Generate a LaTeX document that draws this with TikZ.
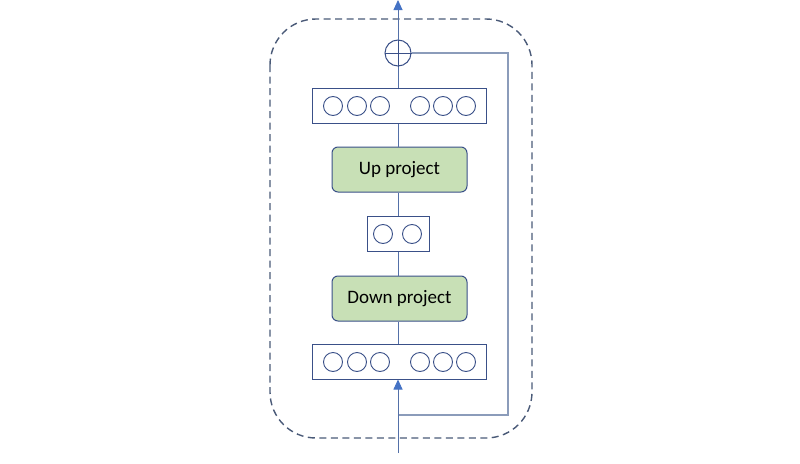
\documentclass[tikz,border=0pt]{standalone}
\usepackage{fontspec}
\setmainfont{Carlito}
\usetikzlibrary{arrows.meta,calc}
\definecolor{boxline}{HTML}{3A5088}
\definecolor{flowline}{HTML}{5470A8}
\definecolor{skipline}{HTML}{8B9CBA}
\definecolor{dashline}{HTML}{4A5A78}
\definecolor{projfill}{HTML}{C8E0B6}
\definecolor{arrowc}{HTML}{4472C4}
\tikzset{
  vecbox/.style={draw=boxline,line width=1pt,fill=white,minimum width=174pt,minimum height=35pt,inner sep=0pt},
  smallbox/.style={draw=boxline,line width=1pt,fill=white,minimum width=62pt,minimum height=35pt,inner sep=0pt},
  unit/.style={circle,draw=boxline,line width=0.9pt,minimum size=19pt,inner sep=0pt},
  projbox/.style={draw=boxline,line width=1pt,fill=projfill,rounded corners=6pt,minimum width=135pt,minimum height=45pt,inner sep=0pt,font=\fontsize{19}{22}\selectfont},
  flow/.style={draw=flowline,line width=0.9pt},
  skip/.style={draw=skipline,line width=1.1pt},
  tip/.style={-{Triangle[length=10pt,width=9pt,color=arrowc]}},
}
\begin{document}
\begin{tikzpicture}[x=1pt,y=-1pt]
\useasboundingbox (0,0) rectangle (800,463);
% dashed outer
\draw[dashline,line width=1.4pt,dash pattern=on 7pt off 4.5pt,rounded corners=46pt] (270,19) rectangle (532,438);
% nodes
\node[vecbox] (top) at (399,105.5) {};
\node[projbox] (up) at (399.5,169.5) {Up project};
\node[smallbox] (mid) at (398,233.5) {};
\node[projbox] (down) at (399.5,298.5) {Down project};
\node[vecbox] (bot) at (399,361.5) {};
\node[circle,draw=boxline,line width=1pt,minimum size=26pt,inner sep=0pt,fill=white] (plus) at (398,53) {};
\draw[boxline,line width=0.9pt] (plus.north) -- (plus.south) (plus.west) -- (plus.east);
% units
\foreach \x [count=\i] in {333,357,380,420,443,466}{
  \node[unit] (t\i) at (\x,106) {};
  \node[unit] (b\i) at (\x,362) {};
}
\node[unit] (m1) at (383,234) {};
\node[unit] (m2) at (412,234) {};
% connectors
\coordinate (inp) at (398,453);
\coordinate (outp) at (398,0);
\coordinate (join) at (398,415);
\coordinate (skr) at (508,53);
\coordinate (skb) at (508,415);
\draw[skip] (plus.east) -- (skr) -- (skb) -- (join);
\draw[flow,tip] (inp) -- (inp |- bot.south);
\draw[flow] (inp |- bot.north) -- (inp |- down.south);
\draw[flow] (inp |- down.north) -- (inp |- mid.south);
\draw[flow] (inp |- mid.north) -- (inp |- up.south);
\draw[flow] (inp |- up.north) -- (inp |- top.south);
\draw[flow] (inp |- top.north) -- (plus.south);
\draw[flow,tip] (plus.north) -- (outp);
\end{tikzpicture}
\end{document}
